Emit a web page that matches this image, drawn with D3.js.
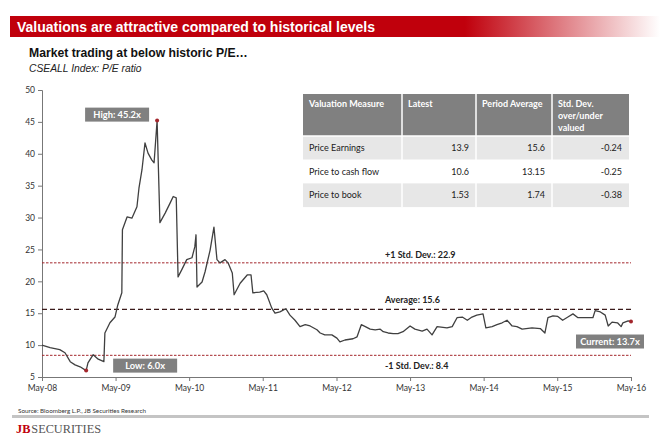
<!DOCTYPE html>
<html>
<head>
<meta charset="utf-8">
<script src="https://cdn.jsdelivr.net/npm/d3@7"></script>
<style>
body { margin: 0; background: #fff; }
svg { display: block; }
</style>
</head>
<body>
<div id="chart"></div>
<script>
// CSEALL P/E ratio
var dates = ["2008-05-01","2008-06-10","2008-07-28","2008-08-23","2008-09-18","2008-10-12","2008-11-06","2008-12-06",
	"2008-12-15","2009-01-10","2009-02-04","2009-03-04","2009-03-09","2009-04-03","2009-04-28","2009-05-12","2009-06-01",
	"2009-06-04","2009-06-27","2009-07-21","2009-08-15","2009-08-25","2009-09-09","2009-09-24","2009-10-09","2009-10-28",
	"2009-11-08","2009-11-23","2009-12-07","2010-01-02","2010-01-27","2010-02-11","2010-02-26","2010-03-07","2010-03-25",
	"2010-04-19","2010-05-15","2010-05-29","2010-06-04","2010-06-09","2010-07-04","2010-07-19","2010-08-13","2010-09-01",
	"2010-09-16","2010-10-01","2010-10-26","2010-11-10","2010-12-01","2010-12-10","2011-01-09","2011-02-13","2011-03-04",
	"2011-03-13","2011-04-16","2011-05-06","2011-05-21","2011-06-15","2011-07-01","2011-07-25","2011-08-24","2011-09-13",
	"2011-10-08","2011-11-02","2011-11-28","2011-12-22","2012-01-25","2012-02-10","2012-03-04","2012-04-08","2012-05-03",
	"2012-05-18","2012-06-12","2012-07-22","2012-08-11","2012-09-01","2012-09-21","2012-10-15","2012-11-09","2012-12-04",
	"2012-12-19","2013-01-12","2013-02-06","2013-03-02","2013-03-27","2013-05-01","2013-05-25","2013-06-30","2013-07-24",
	"2013-08-18","2013-09-12","2013-10-31","2013-11-26","2013-12-20","2014-01-15","2014-02-09","2014-03-04","2014-03-28",
	"2014-04-28","2014-05-12","2014-06-12","2014-07-06","2014-08-01","2014-08-25","2014-09-19","2014-10-13","2014-11-08",
	"2014-12-27","2015-02-06","2015-03-01","2015-03-16","2015-04-10","2015-05-04","2015-05-28","2015-06-23","2015-07-18",
	"2015-08-12","2015-10-12","2015-10-25","2015-11-05","2015-12-01","2015-12-25","2016-01-09","2016-01-28","2016-02-24",
	"2016-03-13","2016-03-22","2016-04-17","2016-05-01"];
var peValues = [10.0,9.6,9.3,8.8,7.4,6.9,6.6,6.0,
	7.2,8.5,7.8,7.4,11.9,13.5,14.4,16.3,18.2,
	28.1,30.1,29.9,31.7,34.6,37.5,41.7,40.1,39.0,
	38.6,45.2,29.2,30.7,32.3,33.3,33.1,20.7,21.8,
	23.4,23.7,25.4,27.3,19.1,19.9,21.5,24.9,28.5,
	23.4,22.9,23.4,22.9,21.3,17.9,19.7,21.0,21.0,
	18.2,18.3,18.5,17.9,15.8,15.0,15.2,15.7,14.7,
	13.9,12.9,13.2,13.0,12.4,11.9,11.6,11.6,11.1,
	10.5,10.8,11.0,11.3,13.2,12.9,12.5,12.4,12.5,
	12.1,11.9,11.8,11.8,12.1,13.0,12.5,12.2,12.5,
	11.6,12.9,12.7,12.9,14.3,14.4,13.9,14.4,14.7,
	14.9,12.7,12.9,13.2,13.5,13.9,13.0,12.9,12.5,
	12.7,12.6,11.9,14.3,14.6,14.5,13.9,14.4,14.9,
	14.3,14.3,14.3,15.4,15.2,14.7,13.0,13.6,13.5,
	12.9,13.5,13.8,13.7];

var refNames = ["+1 Std. Dev.", "Average", "-1 Std. Dev."];
var refValues = [22.9, 15.6, 8.4];

var tableRows = ["Price Earnings", "Price to cash flow", "Price to book"];
var latest = ["13.9", "10.6", "1.53"];
var periodAvg = ["15.6", "13.15", "1.74"];
var stdDev = ["-0.24", "-0.25", "-0.38"];
var headLines = [["Valuation Measure"], ["Latest"], ["Period Average"], ["Std. Dev.", "over/under", "valued"]];

var yTicks = [5, 10, 15, 20, 25, 30, 35, 40, 45, 50];
var xTickDates = ["2008-05-01","2009-05-01","2010-05-01","2011-05-01","2012-05-01","2013-05-01","2014-05-01","2015-05-01","2016-05-01"];

var width = 660,
	height = 440,
	red = "#c0000c",
	grey = "#808080",
	font = "Lato, 'Open Sans', sans-serif",
	arial = "'Liberation Sans', Arial, sans-serif",
	parse = d3.timeParse("%Y-%m-%d"),
	data = dates.map(function(d, i){ return {date: parse(d), value: peValues[i]}; });

var svg = d3.select("#chart")
	.append("svg")
	.attr("width", width)
	.attr("height", height);

// header bar
var grad = svg.append("defs").append("linearGradient")
	.attr("id", "bar").attr("x1", "0").attr("x2", "1").attr("y1", "0").attr("y2", "0");
grad.append("stop").attr("offset", "0").attr("stop-color", red);
grad.append("stop").attr("offset", "0.7").attr("stop-color", red);
grad.append("stop").attr("offset", "1").attr("stop-color", "#fff");

svg.append("rect").attr("x", 10).attr("y", 16).attr("width", 650).attr("height", 21).attr("fill", "url(#bar)");
svg.append("text").attr("x", 17).attr("y", 31.5)
	.attr("font-family", arial).attr("font-weight", "bold").attr("font-size", 14)
	.attr("fill", "#fff").text("Valuations are attractive compared to historical levels");

svg.append("text").attr("x", 29).attr("y", 57)
	.attr("font-family", arial).attr("font-weight", "bold").attr("font-size", 12.2)
	.attr("fill", "#111").text("Market trading at below historic P/E…");
svg.append("text").attr("x", 29).attr("y", 72)
	.attr("font-family", arial).attr("font-style", "italic").attr("font-size", 10.3)
	.attr("fill", "#222").text("CSEALL Index: P/E ratio");

// scales
var x = d3.scaleTime()
	.domain([parse("2008-05-01"), parse("2016-05-01")])
	.range([42, 631]);
var y = d3.scaleLinear()
	.domain([5, 50])
	.range([377, 90]);

var yAxis = svg.append("g")
	.attr("transform", "translate(42,0)")
	.call(d3.axisLeft(y).tickValues(yTicks).tickSize(4).tickPadding(3));
var xAxis = svg.append("g")
	.attr("transform", "translate(0,377)")
	.call(d3.axisBottom(x).tickValues(xTickDates.map(parse)).tickSize(4).tickPadding(4)
		.tickFormat(d3.timeFormat("%b-%y")));

[yAxis, xAxis].forEach(function(g){
	g.select(".domain").attr("stroke", "#777");
	g.selectAll(".tick line").attr("stroke", "#777");
	g.selectAll("text").attr("font-family", font).attr("font-size", 8.5).attr("fill", "#333");
});

// reference lines
svg.selectAll(".ref")
	.data(refValues)
	.enter()
	.append("line")
	.attr("class", "ref")
	.attr("x1", 42).attr("x2", 631)
	.attr("y1", function(d){ return y(d); })
	.attr("y2", function(d){ return y(d); })
	.attr("stroke", function(d, i){ return i == 1 ? "#3b1a1a" : "#a3262c"; })
	.attr("stroke-width", function(d, i){ return i == 1 ? 1.2 : 1; })
	.attr("stroke-dasharray", function(d, i){ return i == 1 ? "5,3" : "2.5,1.5"; });

var refLabelY = [-5, -6, 14];
svg.selectAll(".refLabel")
	.data(refValues)
	.enter()
	.append("text")
	.attr("class", "refLabel")
	.attr("x", 385)
	.attr("y", function(d, i){ return y(d) + refLabelY[i]; })
	.attr("font-family", font).attr("font-weight", "bold").attr("font-size", 9)
	.attr("fill", "#222")
	.text(function(d, i){ return refNames[i] + ": " + d; });

// P/E line
svg.append("path")
	.datum(data)
	.attr("fill", "none")
	.attr("stroke", "#404040")
	.attr("stroke-width", 1.3)
	.attr("stroke-linejoin", "round")
	.attr("d", d3.line()
		.x(function(d){ return x(d.date); })
		.y(function(d){ return y(d.value); }));

// high / low / current callouts
var hi = data.reduce(function(a, b){ return b.value > a.value ? b : a; }),
	lo = data.reduce(function(a, b){ return b.value < a.value ? b : a; }),
	cur = data[data.length - 1];

var callouts = [
	{p: hi, label: "High: " + hi.value.toFixed(1) + "x", dx: -72, dy: -13, w: 64},
	{p: lo, label: "Low: " + lo.value.toFixed(1) + "x", dx: 27, dy: -12, w: 64},
	{p: cur, label: "Current: " + cur.value.toFixed(1) + "x", dx: -55, dy: 13, w: 68}
];

callouts.forEach(function(c){
	var cx = x(c.p.date), cy = y(c.p.value);
	svg.append("rect")
		.attr("x", cx + c.dx).attr("y", cy + c.dy)
		.attr("width", c.w).attr("height", 14)
		.attr("fill", grey);
	svg.append("text")
		.attr("x", cx + c.dx + c.w / 2).attr("y", cy + c.dy + 10.3)
		.attr("text-anchor", "middle")
		.attr("font-family", font).attr("font-weight", "bold").attr("font-size", 9.3)
		.attr("fill", "#fff").text(c.label);
	svg.append("circle")
		.attr("cx", cx).attr("cy", cy).attr("r", 2)
		.attr("fill", "#a3262c");
});

// valuation table
var colX = [303, 402, 476, 552, 629],
	headTop = 94, headH = 42, rowH = 23.7;

svg.append("rect").attr("x", colX[0]).attr("y", headTop)
	.attr("width", colX[4] - colX[0]).attr("height", headH).attr("fill", grey);

tableRows.forEach(function(r, i){
	svg.append("rect").attr("x", colX[0]).attr("y", headTop + headH + i * rowH)
		.attr("width", colX[4] - colX[0]).attr("height", rowH)
		.attr("fill", i == 1 ? "#fff" : "#e7e7e7");
});

colX.slice(1, 4).forEach(function(cx){
	svg.append("line").attr("x1", cx).attr("x2", cx)
		.attr("y1", headTop).attr("y2", headTop + headH + 3 * rowH)
		.attr("stroke", "#fff").attr("stroke-width", 1.5);
});
svg.append("line").attr("x1", colX[0]).attr("x2", colX[4])
	.attr("y1", headTop + headH).attr("y2", headTop + headH)
	.attr("stroke", "#fff").attr("stroke-width", 1.5);

headLines.forEach(function(lines, j){
	lines.forEach(function(t, k){
		svg.append("text")
			.attr("x", colX[j] + 6).attr("y", headTop + 13 + k * 12)
			.attr("font-family", font).attr("font-weight", "bold").attr("font-size", 9)
			.attr("fill", "#fff").text(t);
	});
});

var cols = [latest, periodAvg, stdDev];
tableRows.forEach(function(r, i){
	var ty = headTop + headH + i * rowH + 15;
	svg.append("text").attr("x", colX[0] + 6).attr("y", ty)
		.attr("font-family", font).attr("font-size", 9).attr("fill", "#222").text(r);
	cols.forEach(function(col, j){
		svg.append("text").attr("x", colX[j + 2] - 7).attr("y", ty)
			.attr("text-anchor", "end")
			.attr("font-family", font).attr("font-size", 9).attr("fill", "#222").text(col[i]);
	});
});

// footer
svg.append("text").attr("x", 18).attr("y", 413)
	.attr("font-family", font).attr("font-size", 6.3).attr("fill", "#333")
	.text("Source: Bloomberg L.P., JB Securities Research");
svg.append("rect").attr("x", 12).attr("y", 415).attr("width", 637).attr("height", 3).attr("fill", "#c4c4c4");

var logo = svg.append("text").attr("x", 16).attr("y", 433)
	.attr("font-family", "'Liberation Serif', 'DejaVu Serif', serif").attr("font-size", 13)
	.attr("textLength", 85).attr("lengthAdjust", "spacingAndGlyphs");
logo.append("tspan").attr("fill", red).attr("font-weight", "bold").text("JB");
logo.append("tspan").attr("fill", "#555").attr("dx", 1).text("SECURITIES");
</script>
</body>
</html>
